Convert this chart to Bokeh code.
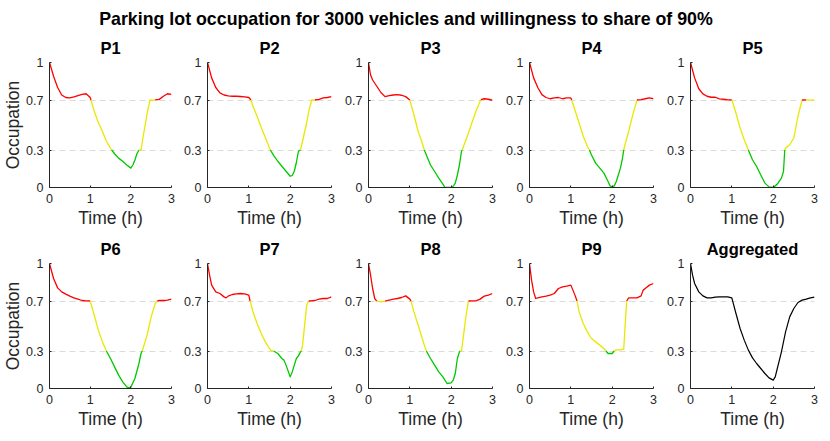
from bokeh.plotting import figure
from bokeh.layouts import column, row
from bokeh.models import Range1d, FixedTicker, PrintfTickFormatter, ColumnDataSource
from bokeh.embed import file_html
from bokeh.resources import INLINE
from bokeh.core.validation import silence
from bokeh.core.validation.warnings import MISSING_RENDERERS

silence(MISSING_RENDERERS, True)

SUPTITLE = "Parking lot occupation for 3000 vehicles and willingness to share of 90%"
X_TICKS = [0, 1, 2, 3]
Y_TICKS = [0, 0.3, 0.7, 1]
X_LABEL = "Time (h)"
Y_LABEL = "Occupation"
NAMES = ["P1", "P2", "P3", "P4", "P5", "P6", "P7", "P8", "P9", "Aggregated"]

P1_t = [0, 0.1, 0.2, 0.3, 0.4, 0.5, 0.6, 0.7, 0.8, 0.9, 1.0, 1.02, 1.1, 1.2, 1.3, 1.4, 1.5, 1.53, 1.6, 1.7, 1.8, 1.9, 2.0, 2.05, 2.1, 2.15, 2.2, 2.25, 2.3, 2.4, 2.47, 2.55, 2.6, 2.7, 2.8, 2.9, 3.0]
P1_occ = [1.0, 0.89, 0.80, 0.74, 0.72, 0.717, 0.725, 0.735, 0.745, 0.75, 0.72, 0.70, 0.61, 0.52, 0.45, 0.37, 0.315, 0.30, 0.27, 0.235, 0.21, 0.18, 0.155, 0.18, 0.22, 0.27, 0.30, 0.30, 0.40, 0.59, 0.70, 0.699, 0.701, 0.705, 0.73, 0.75, 0.745]

P2_t = [0, 0.1, 0.2, 0.3, 0.4, 0.5, 0.6, 0.7, 0.8, 0.9, 1.0, 1.05, 1.1, 1.2, 1.3, 1.4, 1.5, 1.52, 1.6, 1.7, 1.8, 1.9, 2.0, 2.05, 2.1, 2.15, 2.2, 2.25, 2.3, 2.4, 2.45, 2.52, 2.6, 2.7, 2.8, 2.9, 3.0]
P2_occ = [1.0, 0.877, 0.80, 0.757, 0.74, 0.733, 0.73, 0.73, 0.728, 0.725, 0.72, 0.70, 0.65, 0.57, 0.48, 0.40, 0.315, 0.30, 0.257, 0.21, 0.17, 0.13, 0.09, 0.096, 0.13, 0.20, 0.29, 0.30, 0.37, 0.52, 0.61, 0.70, 0.70, 0.705, 0.717, 0.72, 0.727]

P3_t = [0, 0.05, 0.1, 0.2, 0.3, 0.4, 0.5, 0.6, 0.7, 0.8, 0.9, 1.0, 1.1, 1.2, 1.3, 1.35, 1.4, 1.5, 1.6, 1.7, 1.8, 1.85, 1.9, 2.0, 2.05, 2.1, 2.15, 2.2, 2.25, 2.27, 2.3, 2.4, 2.5, 2.6, 2.7, 2.72, 2.8, 2.9, 3.0]
P3_occ = [1.0, 0.90, 0.86, 0.81, 0.76, 0.727, 0.735, 0.74, 0.743, 0.738, 0.727, 0.70, 0.58, 0.45, 0.356, 0.30, 0.26, 0.18, 0.128, 0.075, 0.027, 0.0, 0.0, 0.0, 0.01, 0.035, 0.10, 0.18, 0.29, 0.30, 0.33, 0.42, 0.516, 0.61, 0.69, 0.703, 0.71, 0.706, 0.698]

P4_t = [0, 0.1, 0.2, 0.3, 0.4, 0.5, 0.6, 0.7, 0.8, 0.9, 1.0, 1.02, 1.1, 1.2, 1.3, 1.4, 1.45, 1.5, 1.6, 1.7, 1.8, 1.9, 1.95, 2.0, 2.05, 2.1, 2.2, 2.25, 2.28, 2.3, 2.4, 2.5, 2.6, 2.7, 2.8, 2.9, 3.0]
P4_occ = [1.0, 0.877, 0.80, 0.743, 0.72, 0.71, 0.717, 0.72, 0.71, 0.717, 0.717, 0.70, 0.62, 0.516, 0.41, 0.33, 0.30, 0.26, 0.195, 0.155, 0.115, 0.048, 0.013, 0.005, 0.013, 0.048, 0.155, 0.235, 0.30, 0.33, 0.45, 0.583, 0.70, 0.703, 0.71, 0.717, 0.71]

P5_t = [0, 0.1, 0.2, 0.3, 0.4, 0.5, 0.6, 0.7, 0.8, 0.9, 1.0, 1.1, 1.2, 1.3, 1.4, 1.5, 1.6, 1.7, 1.8, 1.9, 2.0, 2.1, 2.2, 2.25, 2.28, 2.3, 2.4, 2.5, 2.6, 2.7, 2.8, 2.9, 3.0]
P5_occ = [1.0, 0.877, 0.79, 0.749, 0.73, 0.722, 0.722, 0.709, 0.706, 0.701, 0.70, 0.596, 0.476, 0.382, 0.30, 0.222, 0.168, 0.10, 0.035, 0.005, 0.0, 0.027, 0.075, 0.128, 0.30, 0.315, 0.342, 0.396, 0.57, 0.70, 0.701, 0.699, 0.70]

P6_t = [0, 0.1, 0.2, 0.3, 0.4, 0.5, 0.6, 0.7, 0.8, 0.9, 1.0, 1.1, 1.2, 1.3, 1.4, 1.5, 1.6, 1.7, 1.8, 1.9, 1.95, 2.0, 2.1, 2.2, 2.25, 2.28, 2.3, 2.4, 2.5, 2.6, 2.65, 2.7, 2.8, 2.9, 3.0]
P6_occ = [1.0, 0.88, 0.805, 0.773, 0.755, 0.739, 0.725, 0.715, 0.704, 0.701, 0.70, 0.587, 0.467, 0.373, 0.30, 0.24, 0.173, 0.107, 0.053, 0.013, 0.005, 0.011, 0.08, 0.20, 0.28, 0.30, 0.32, 0.427, 0.573, 0.68, 0.70, 0.704, 0.704, 0.707, 0.715]

P7_t = [0, 0.05, 0.1, 0.2, 0.3, 0.4, 0.45, 0.5, 0.6, 0.7, 0.8, 0.9, 1.0, 1.03, 1.1, 1.2, 1.3, 1.4, 1.5, 1.55, 1.6, 1.7, 1.8, 1.85, 1.9, 2.0, 2.05, 2.1, 2.15, 2.2, 2.25, 2.27, 2.3, 2.35, 2.4, 2.45, 2.5, 2.6, 2.7, 2.8, 2.9, 3.0]
P7_occ = [1.0, 0.907, 0.827, 0.773, 0.76, 0.733, 0.725, 0.739, 0.752, 0.757, 0.76, 0.757, 0.747, 0.70, 0.613, 0.52, 0.44, 0.373, 0.32, 0.30, 0.30, 0.28, 0.24, 0.227, 0.187, 0.093, 0.133, 0.187, 0.24, 0.261, 0.293, 0.30, 0.347, 0.507, 0.667, 0.70, 0.701, 0.704, 0.715, 0.72, 0.72, 0.733]

P8_t = [0, 0.05, 0.1, 0.15, 0.2, 0.3, 0.4, 0.5, 0.6, 0.7, 0.8, 0.9, 1.0, 1.03, 1.1, 1.2, 1.3, 1.35, 1.4, 1.5, 1.6, 1.7, 1.8, 1.9, 2.0, 2.05, 2.1, 2.15, 2.2, 2.22, 2.25, 2.3, 2.35, 2.4, 2.42, 2.5, 2.6, 2.7, 2.8, 2.9, 3.0]
P8_occ = [1.0, 0.907, 0.80, 0.72, 0.699, 0.693, 0.699, 0.707, 0.715, 0.72, 0.728, 0.741, 0.715, 0.699, 0.613, 0.507, 0.40, 0.347, 0.30, 0.24, 0.187, 0.133, 0.093, 0.04, 0.045, 0.067, 0.12, 0.24, 0.293, 0.30, 0.30, 0.427, 0.56, 0.667, 0.70, 0.701, 0.701, 0.715, 0.739, 0.747, 0.76]

P9_t = [0, 0.05, 0.1, 0.15, 0.2, 0.3, 0.4, 0.5, 0.6, 0.7, 0.8, 0.9, 1.0, 1.05, 1.1, 1.15, 1.2, 1.3, 1.4, 1.5, 1.6, 1.7, 1.8, 1.85, 1.9, 2.0, 2.05, 2.1, 2.2, 2.28, 2.3, 2.35, 2.4, 2.5, 2.6, 2.7, 2.75, 2.8, 2.9, 3.0]
P9_occ = [1.0, 0.867, 0.773, 0.72, 0.725, 0.733, 0.739, 0.747, 0.76, 0.80, 0.813, 0.819, 0.827, 0.787, 0.747, 0.70, 0.613, 0.52, 0.453, 0.40, 0.373, 0.347, 0.32, 0.30, 0.28, 0.28, 0.30, 0.309, 0.309, 0.315, 0.427, 0.70, 0.725, 0.725, 0.725, 0.741, 0.787, 0.80, 0.827, 0.84]

AGG_t = [0, 0.05, 0.1, 0.2, 0.3, 0.4, 0.5, 0.6, 0.7, 0.8, 0.9, 1.0, 1.1, 1.2, 1.3, 1.4, 1.5, 1.6, 1.7, 1.8, 1.9, 2.0, 2.05, 2.1, 2.2, 2.3, 2.4, 2.5, 2.6, 2.7, 2.8, 2.9, 3.0]
AGG_occ = [1.0, 0.907, 0.84, 0.773, 0.741, 0.725, 0.725, 0.731, 0.733, 0.733, 0.733, 0.725, 0.60, 0.48, 0.387, 0.307, 0.245, 0.20, 0.16, 0.12, 0.085, 0.067, 0.093, 0.16, 0.293, 0.453, 0.573, 0.64, 0.688, 0.707, 0.715, 0.725, 0.731]

SERIES = [(P1_t, P1_occ), (P2_t, P2_occ), (P3_t, P3_occ), (P4_t, P4_occ), (P5_t, P5_occ),
          (P6_t, P6_occ), (P7_t, P7_occ), (P8_t, P8_occ), (P9_t, P9_occ), (AGG_t, AGG_occ)]

FONT = "Liberation Sans"
TXT = "#262626"
RED, YEL, GRN = "#ff0000", "#e8e800", "#00c800"
FRAME_W = [122, 124, 124, 124, 124]
BORDER_L = [0, 31, 32, 32, 32]
BORDER_R = 5
FRAME_H = 125
BORDER_T = [31, 33]


def level_color(a, b):
    m = (a + b) / 2.0
    if m > 0.7:
        return RED
    if m < 0.3:
        return GRN
    return YEL


def colored_runs(t, y):
    xs, ys, cs = [], [], []
    for i in range(len(t) - 1):
        c = level_color(y[i], y[i + 1])
        if cs and cs[-1] == c:
            xs[-1].append(t[i + 1])
            ys[-1].append(y[i + 1])
        else:
            xs.append([t[i], t[i + 1]])
            ys.append([y[i], y[i + 1]])
            cs.append(c)
    return dict(xs=xs, ys=ys, color=cs)


def make_panel(k):
    r, c = divmod(k, 5)
    t, y = SERIES[k]
    p = figure(frame_width=FRAME_W[c], frame_height=FRAME_H,
               x_range=Range1d(0, 3), y_range=Range1d(0, 1),
               output_backend="svg", toolbar_location=None,
               min_border_left=BORDER_L[c], min_border_right=BORDER_R,
               min_border_top=BORDER_T[r], min_border_bottom=0,
               title=NAMES[k])
    p.title.align = "center"
    p.title.text_font = FONT
    p.title.text_font_size = "16.5px"
    p.title.text_font_style = "bold"
    p.title.text_color = "black"
    p.title.standoff = 11
    p.outline_line_color = None
    p.background_fill_color = "white"
    p.border_fill_color = "white"
    p.xgrid.visible = False
    p.ygrid.ticker = FixedTicker(ticks=Y_TICKS)
    p.ygrid.grid_line_color = "#dcdcdc"
    p.ygrid.grid_line_dash = "6 4"
    p.ygrid.grid_line_width = 1
    p.xaxis.ticker = FixedTicker(ticks=X_TICKS)
    p.yaxis.ticker = FixedTicker(ticks=Y_TICKS)
    p.yaxis.formatter = PrintfTickFormatter(format="%g")
    p.xaxis.formatter = PrintfTickFormatter(format="%g")
    for ax in (p.xaxis[0], p.yaxis[0]):
        ax.axis_line_color = TXT
        ax.axis_line_width = 1
        ax.major_tick_line_color = TXT
        ax.major_tick_in = 2
        ax.major_tick_out = 0
        ax.minor_tick_line_color = None
        ax.major_label_text_font = FONT
        ax.major_label_text_font_size = "12.5px"
        ax.major_label_text_color = TXT
        ax.axis_label_text_font = FONT
        ax.axis_label_text_font_size = "17.5px"
        ax.axis_label_text_font_style = "normal"
        ax.axis_label_text_color = TXT
    p.xaxis.axis_label = X_LABEL
    p.xaxis.major_label_standoff = 6
    p.xaxis.axis_label_standoff = 2
    p.yaxis.major_label_standoff = 6
    if c == 0:
        p.yaxis.axis_label = Y_LABEL
        p.yaxis.axis_label_standoff = 0
    if k == 9:
        p.line(t, y, line_color="black", line_width=1.2, line_join="round")
    else:
        src = ColumnDataSource(colored_runs(t, y))
        p.multi_line("xs", "ys", line_color="color", line_width=1.3,
                     line_join="round", source=src)
    return p


panels = [make_panel(k) for k in range(10)]
total_w = 41 + sum(FRAME_W) + sum(BORDER_L) + 5 * BORDER_R

top = figure(frame_width=total_w, frame_height=1, min_border_left=0, min_border_right=0,
             min_border_bottom=0, min_border_top=30,
             toolbar_location=None, output_backend="svg",
             x_axis_type=None, y_axis_type=None, title=SUPTITLE)
top.outline_line_color = None
top.xgrid.visible = False
top.ygrid.visible = False
top.title.align = "center"
top.title.text_font = FONT
top.title.text_font_size = "17.8px"
top.title.text_font_style = "bold"
top.title.text_color = "black"
top.title.standoff = 4

layout = column(top, row(*panels[:5]), row(*panels[5:]), spacing=0)

with open("out.html", "w") as f:
    f.write(file_html(layout, INLINE))
